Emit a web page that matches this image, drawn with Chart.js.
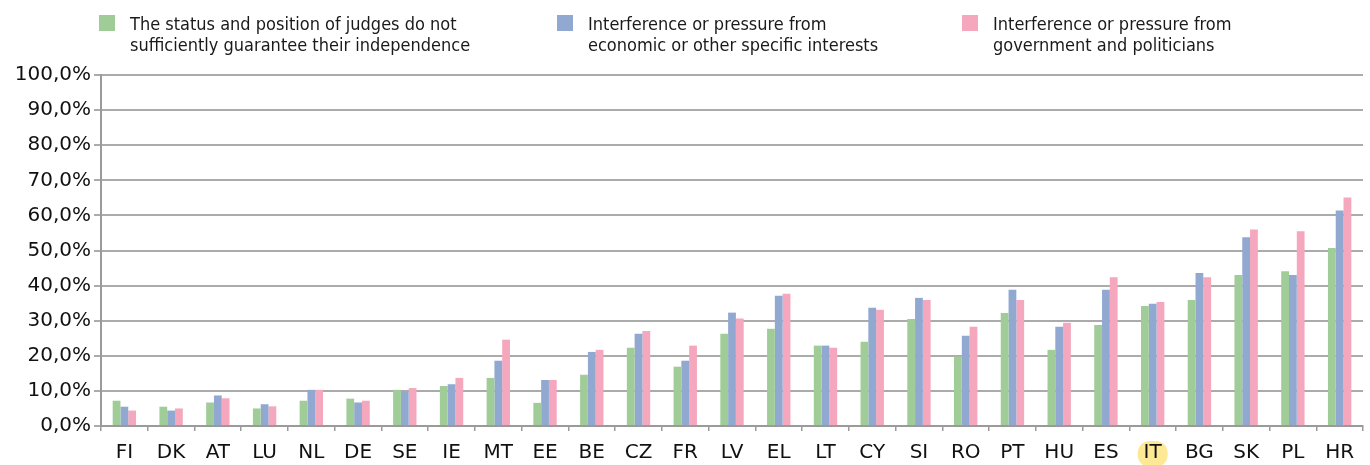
<!DOCTYPE html>
<html>
<head>
<meta charset="utf-8">
<script src="https://cdn.jsdelivr.net/npm/chart.js@4.4.1/dist/chart.umd.min.js"></script>
<style>
  body { margin: 0; background: #fff; }
  #wrap { position: relative; width: 1370px; height: 465px; }
  .leg { position: absolute; top: 0; font-family: "DejaVu Sans Condensed", "DejaVu Sans", sans-serif;
         font-size: 18px; line-height: 21px; color: #1a1a1a; }
  .leg .box { position: absolute; left: 0; top: 15px; width: 16px; height: 16px; }
  .leg .txt { position: absolute; left: 31px; top: 13px; white-space: nowrap; }
</style>
</head>
<body>
<div id="wrap">
  <canvas id="Chart" width="1370" height="465"></canvas>
  <div id="legend"></div>
</div>
<script>
const countries = ['FI','DK','AT','LU','NL','DE','SE','IE','MT','EE','BE','CZ','FR','LV','EL','LT','CY','SI','RO','PT','HU','ES','IT','BG','SK','PL','HR'];

const statusJudges = [7.2, 5.5, 6.7, 5.0, 7.2, 7.8, 10.3, 11.4, 13.7, 6.6, 14.6, 22.3, 16.9, 26.3, 27.7, 22.9, 24.0, 30.5, 19.8, 32.2, 21.7, 28.8, 34.2, 35.9, 43.0, 44.1, 50.7];
const economicPressure = [5.5, 4.4, 8.7, 6.2, 10.3, 6.7, 9.9, 11.9, 18.6, 13.1, 21.1, 26.3, 18.6, 32.3, 37.1, 22.9, 33.7, 36.5, 25.7, 38.8, 28.3, 38.8, 34.8, 43.6, 53.8, 43.0, 61.4];
const governmentPressure = [4.4, 5.0, 7.9, 5.6, 10.3, 7.2, 10.8, 13.7, 24.6, 13.1, 21.7, 27.1, 22.9, 30.6, 37.7, 22.3, 33.1, 35.9, 28.3, 35.9, 29.4, 42.4, 35.3, 42.4, 56.0, 55.5, 65.1];

const seriesLabels = [
    ['The status and position of judges do not', 'sufficiently guarantee their independence'],
    ['Interference or pressure from', 'economic or other specific interests'],
    ['Interference or pressure from', 'government and politicians']
];
const seriesColors = ['#a0cc98', '#91a9d1', '#f4a7bd'];
const highlighted = 'IT';

// html legend, two lines each
const legendX = [99, 557, 962];
let legendHtml = '';
for (let i = 0; i < seriesLabels.length; i++) {
    legendHtml += '<div class="leg" style="left:' + legendX[i] + 'px">' +
        '<div class="box" style="background:' + seriesColors[i] + '"></div>' +
        '<div class="txt">' + seriesLabels[i].join('<br>') + '</div></div>';
}
document.getElementById('legend').innerHTML = legendHtml;

// yellow mark behind the IT label
const highlightPlugin = {
    id: 'highlight',
    beforeDraw(chart) {
        const x = chart.scales.x;
        const idx = countries.indexOf(highlighted);
        const cx = x.getPixelForValue(idx);
        const ctx = chart.ctx;
        ctx.save();
        ctx.fillStyle = '#fde995';
        ctx.beginPath();
        ctx.roundRect(cx - 15, 441, 30, 26, 12);
        ctx.fill();
        ctx.restore();
    }
};

const fontFamily = '"DejaVu Sans", sans-serif';

let barChartElement = document.getElementById('Chart').getContext('2d');
let barChart = new Chart(barChartElement, {
    type: 'bar',
    data: {
        labels: countries,
        datasets: [
            { label: seriesLabels[0].join(' '), data: statusJudges, backgroundColor: seriesColors[0] },
            { label: seriesLabels[1].join(' '), data: economicPressure, backgroundColor: seriesColors[1] },
            { label: seriesLabels[2].join(' '), data: governmentPressure, backgroundColor: seriesColors[2] }
        ]
    },
    options: {
        animation: false,
        responsive: false,
        categoryPercentage: 0.5,
        barPercentage: 1.0,
        layout: { padding: { top: 75, right: 7, left: 0, bottom: 0 } },
        plugins: {
            legend: { display: false },
            tooltip: { enabled: false }
        },
        scales: {
            x: {
                afterFit: (scale) => { scale.height = 39; },
                grid: {
                    offset: true,
                    drawOnChartArea: false,
                    drawTicks: true,
                    tickLength: 5,
                    color: '#9a9a9a',
                    lineWidth: 1.5
                },
                border: { color: '#9a9a9a', width: 2 },
                ticks: {
                    color: '#111',
                    padding: 10,
                    font: { family: fontFamily, size: 20 },
                    maxRotation: 0,
                    autoSkip: false
                }
            },
            y: {
                min: 0,
                max: 100,
                afterFit: (scale) => { scale.width = 101; },
                grid: {
                    color: '#ababab',
                    lineWidth: 2,
                    tickLength: 7
                },
                border: { color: '#9a9a9a', width: 2 },
                ticks: {
                    stepSize: 10,
                    color: '#111',
                    padding: 3,
                    font: { family: fontFamily, size: 20 },
                    callback: (v) => v.toFixed(1).replace('.', ',') + '%'
                }
            }
        }
    },
    plugins: [highlightPlugin]
});
</script>
</body>
</html>
